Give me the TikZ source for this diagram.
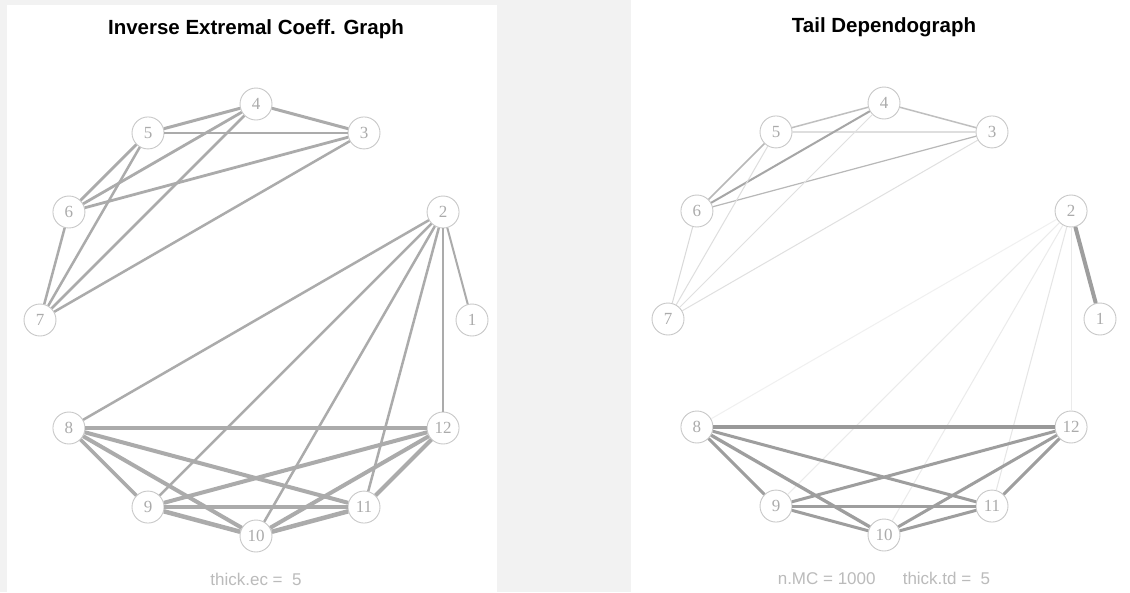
\documentclass[tikz,border=0pt]{standalone}
\usepackage{fontspec}
\setmainfont{Liberation Serif}
\setsansfont{Liberation Sans}
\definecolor{panelbg}{HTML}{F2F2F2}
\definecolor{vtxgray}{HTML}{C8C8C8}
\definecolor{labgray}{HTML}{ABABAB}
\definecolor{notegray}{HTML}{BBBBBB}
\begin{document}
\begin{tikzpicture}[
    x=1pt, y=-1pt,
    vtx/.style={draw=vtxgray, circle, fill=white, line width=0.9pt,
                minimum size=32pt, inner sep=0pt, text=labgray,
                font=\fontsize{17}{17}\selectfont},
    lnk/.style={line width=#1, draw=black!33},
    lnk/.default=2.5pt,
    heading/.style={font=\sffamily\bfseries\fontsize{20.5}{24}\selectfont},
    note/.style={font=\sffamily\fontsize{17}{20}\selectfont, text=notegray}]

\useasboundingbox (0,0) rectangle (1130,592);
\fill[panelbg] (0,0) rectangle (1130,592);
\fill[white] (7,5) rectangle (497,592);
\fill[white] (631,0) rectangle (1130,592);

% left panel
\begin{scope}[shift={(256,320)}]
  \foreach \i in {1,...,12}
    \node[vtx] (l\i) at ({(\i-1)*30}:216pt) {\i};
\end{scope}
\node[heading] (ltitle) at (256,29) {Inverse Extremal Coeff. Graph};
\node[note] (lnote) at (256,579) {thick.ec = \ 5};

\foreach \a/\b/\w in {4/5/3, 4/3/3, 5/3/2.8, 4/6/2.8, 4/7/2.5, 5/6/2.8,
                      5/7/2.5, 3/6/2.8, 3/7/2.5, 6/7/2.5,
                      2/1/2, 2/8/2.5, 2/9/2.5, 2/10/2.5, 2/11/2.5, 2/12/2.5,
                      8/12/4.5, 8/9/3.5, 8/10/4, 8/11/4, 9/10/4.5, 9/11/4,
                      9/12/4, 10/11/4.5, 10/12/4, 11/12/4}
  \draw[lnk=\w pt] (l\a) -- (l\b);

% right panel
\begin{scope}[shift={(884,319)}]
  \foreach \i in {1,...,12}
    \node[vtx] (r\i) at ({(\i-1)*30}:216pt) {\i};
\end{scope}
\node[heading] (rtitle) at (884,27) {Tail Dependograph};
\node[note] (rnote) at (884,578) {n.MC = 1000\hspace{1.6em}thick.td = \ 5};

\foreach \a/\b/\w/\c in {4/5/1.5/25, 4/3/1.5/25, 5/3/2/13, 4/6/2/35,
                         5/6/1.5/28, 3/6/1.2/28, 6/7/1/15, 5/7/1/13,
                         4/7/1/12, 3/7/1/12,
                         2/1/4/38, 2/8/1/6, 2/9/1/8, 2/10/1/8, 2/11/1/10,
                         2/12/1/8,
                         8/12/4/40, 8/9/3/38, 8/10/3.3/38, 8/11/3/38,
                         9/10/3/38, 9/11/3/38, 9/12/3/38, 10/11/3/38,
                         10/12/3/38, 11/12/3/38}
  \draw[lnk=\w pt, draw=black!\c] (r\a) -- (r\b);

\end{tikzpicture}
\end{document}
